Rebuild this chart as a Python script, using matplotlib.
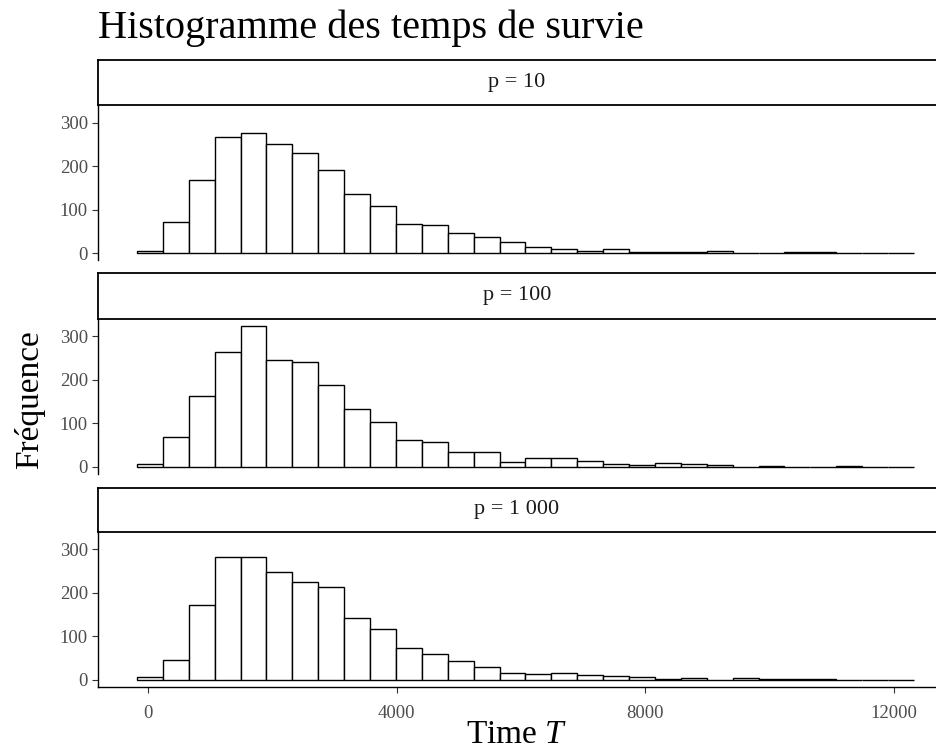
import numpy as np
import matplotlib
matplotlib.use('Agg')
import matplotlib.pyplot as plt

# histogram bins (30 bins, shared by all facets)
bin_start = -177
bin_end = 12320
n_bins = 30

# counts, one list per facet
counts_p10 = [5, 72, 169, 268, 277, 250, 231, 192, 136, 108,
              67, 65, 46, 37, 25, 15, 10, 5, 11, 2,
              3, 4, 5, 0, 0, 2, 2, 0, 0, 1]
counts_p100 = [5, 68, 163, 263, 324, 246, 240, 188, 133, 103,
               62, 56, 33, 34, 11, 21, 19, 13, 5, 4,
               8, 5, 4, 0, 2, 0, 0, 2, 0, 0]
counts_p1000 = [5, 45, 172, 281, 282, 248, 225, 212, 142, 116,
                73, 58, 42, 28, 16, 12, 15, 11, 8, 5,
                2, 4, 0, 4, 2, 1, 1, 0, 0, 0]

facet_labels = ['p = 10', 'p = 100', 'p = 1 000']
facet_counts = [counts_p10, counts_p100, counts_p1000]
y_ticks = [0, 100, 200, 300]
x_ticks = [0, 4000, 8000, 12000]

plt.rcParams['font.family'] = ['Liberation Serif', 'DejaVu Serif']
plt.rcParams['mathtext.fontset'] = 'custom'
plt.rcParams['mathtext.it'] = 'Liberation Serif:italic'
plt.rcParams['mathtext.rm'] = 'Liberation Serif'

W, H = 936, 751
fig = plt.figure(figsize=(W / 100, H / 100), dpi=100)

edges = np.linspace(bin_start, bin_end, n_bins + 1)
bw = edges[1] - edges[0]

# pixel layout of (strip top, panel top, panel bottom)
rows = [(60, 105.2, 260.4), (273.3, 318.5, 473.7), (487.7, 531.5, 686.7)]
left_px, right_px = 97.7, 945

def fx(px):
    return px / W

def fy(py):
    return 1 - py / H

grey = '#4D4D4D'
for i, (label, counts) in enumerate(zip(facet_labels, facet_counts)):
    s_top, p_top, p_bot = rows[i]
    # panel
    ax = fig.add_axes([fx(left_px), fy(p_bot), fx(right_px - left_px), (p_bot - p_top) / H])
    ax.patch.set_alpha(0)
    ax.bar(edges[:-1], counts, width=bw, align='edge',
           facecolor='white', edgecolor='black', linewidth=1.0)
    ax.set_xlim(-809, -809 + (right_px - left_px) / 0.06217)
    ax.set_ylim(-16.2, 340.2)
    ax.set_yticks(y_ticks)
    ax.tick_params(axis='y', length=4, width=0.8, color='#333333',
                   labelsize=13.5, labelcolor=grey, pad=3)
    for side in ['top', 'right']:
        ax.spines[side].set_visible(False)
    ax.spines['left'].set_linewidth(1.0)
    if i < 2:
        ax.spines['bottom'].set_visible(False)
        ax.set_xticks([])
    else:
        ax.spines['bottom'].set_linewidth(1.0)
        ax.set_xticks(x_ticks)
        ax.set_xticklabels([str(t) for t in x_ticks])
        ax.tick_params(axis='x', length=4, width=0.8, color='#333333',
                       labelsize=13.5, labelcolor=grey, pad=9)

    # strip
    sax = fig.add_axes([fx(left_px), fy(p_top), fx(right_px - left_px), (p_top - s_top) / H])
    sax.set_xticks([])
    sax.set_yticks([])
    sax.patch.set_facecolor('white')
    for sp in sax.spines.values():
        sp.set_linewidth(1.3)
        sp.set_color('black')
    sax.text((936 - left_px) / 2 / (right_px - left_px), 0.5, label,
             ha='center', va='center', fontsize=16, color='#1A1A1A',
             transform=sax.transAxes)

fig.text(fx(98), fy(38), 'Histogramme des temps de survie', fontsize=29,
         ha='left', va='baseline', color='black')
fig.text(fx(30), fy(400), 'Fréquence', fontsize=24, rotation=90,
         ha='center', va='center', color='black')
fig.text(fx(517), fy(743), 'Time $T$', fontsize=24,
         ha='center', va='baseline', color='black')

fig.savefig('out.png', dpi=100)
